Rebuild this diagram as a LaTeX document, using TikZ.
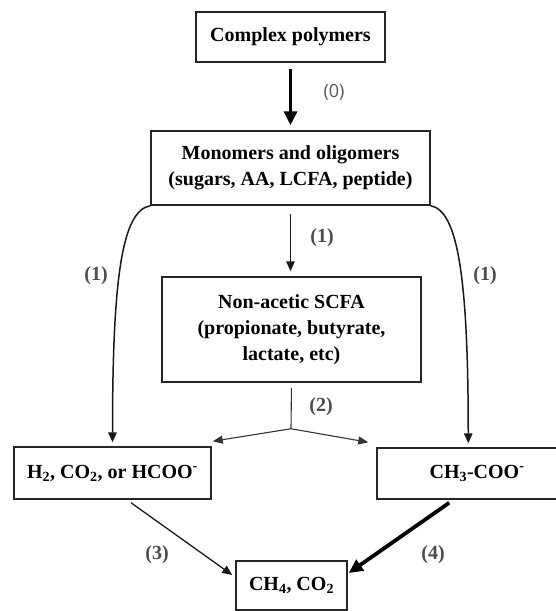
\documentclass[tikz,border=0pt]{standalone}
\usepackage{fontspec}
\setmainfont{Liberation Serif}
\newfontfamily\labelsans{Open Sans}
\usetikzlibrary{arrows.meta,calc}

\begin{document}
\begin{tikzpicture}[x=1pt,y=-1pt,
  box/.style={draw=black!85, line width=1.5pt, fill=white, inner sep=0pt,
    align=center, text=black,
    font=\fontsize{20}{26}\selectfont\bfseries},
  flow/.style={draw=black!90, line width=1.5pt,
    -{Triangle[length=10pt,width=8.5pt]}},
  branch/.style={draw=black!80, line width=1.1pt,
    -{Triangle[length=10pt,width=8pt]}},
  heavy/.style={draw=black, line width=3.6pt,
    -{Triangle[length=14pt,width=13pt]}},
  num/.style={font=\fontsize{20}{22}\selectfont\bfseries, text=black!70},
  sansnum/.style={font=\labelsans\fontsize{18}{20}\selectfont, text=black!65},
]
\useasboundingbox (0,0) rectangle (555,611);
\fill[white] (0,0) rectangle (555,611);

% boxes
\node[box, minimum width=189pt, minimum height=50pt] (poly) at (290.5,37) {Complex polymers};
\node[box, minimum width=279pt, minimum height=74pt] (mono) at (290.5,168)
  {Monomers and oligomers\\(sugars, AA, LCFA, peptide)};
\node[box, minimum width=259pt, minimum height=105pt] (scfa) at (291.5,329.5)
  {Non-acetic SCFA\\(propionate, butyrate,\\lactate, etc)};
\node[box, minimum width=197pt, minimum height=52pt] (h2) at (112.5,473)
  {H\textsubscript{2}, CO\textsubscript{2}, or HCOO\textsuperscript{-}};
\node[box, minimum width=200pt, minimum height=51pt] (ch3) at (477,473.5)
  {CH\textsubscript{3}-COO\textsuperscript{-}};
\node[box, minimum width=111pt, minimum height=49pt] (ch4) at (291.5,585.5)
  {CH\textsubscript{4}, CO\textsubscript{2}};

% connector end points
\coordinate (split) at ($(scfa.south)+(-0.5,46)$);
\coordinate (h2in) at ($(h2.north east)+(1,-5)$);
\coordinate (ch3in) at ($(ch3.north west)+(-8,-5)$);
\coordinate (ch3top) at ($(ch3.north west)+(92,0)$);
\coordinate (h2out) at ($(h2.south)+(18.5,3)$);
\coordinate (ch3out) at ($(ch3.south west)+(73,3)$);
\coordinate (ch4left) at ($(ch4.west)+(-3,-10.5)$);
\coordinate (ch4right) at ($(ch4.east)+(1,-12.5)$);

% (0) hydrolysis
\draw[heavy, shorten <=6pt, shorten >=5pt] (poly.south) -- (mono.north);
\node[sansnum] (l0) at (334,92) {(0)};

% (1) acidogenesis
\draw[flow, shorten <=8pt, shorten >=5pt] (mono.south) -- (mono.south |- scfa.north);
\node[num] (l1c) at (322,238) {(1)};
\draw[flow, shorten >=4pt] (mono.south west) .. controls +(-28,5) and +(0,-170) .. (h2.north);
\node[num] (l1l) at (96,276) {(1)};
\draw[flow, shorten >=4pt] (mono.south east) .. controls +(27,5) and +(0,-170) .. (ch3top);
\node[num] (l1r) at (485,276) {(1)};

% (2) acetogenesis
\draw[draw=black!80, line width=1.1pt, shorten <=5pt] (scfa.south) -- (split);
\draw[branch] (split) -- (h2in);
\draw[branch] (split) -- (ch3in);
\node[num] (l2) at (321,407) {(2)};

% (3) and (4) methanogenesis
\draw[flow, line width=1.3pt] (h2out) -- (ch4left);
\node[num] (l3) at (157,555) {(3)};
\draw[heavy, line width=3.8pt] (ch3out) -- (ch4right);
\node[num] (l4) at (433,555) {(4)};
\end{tikzpicture}
\end{document}
